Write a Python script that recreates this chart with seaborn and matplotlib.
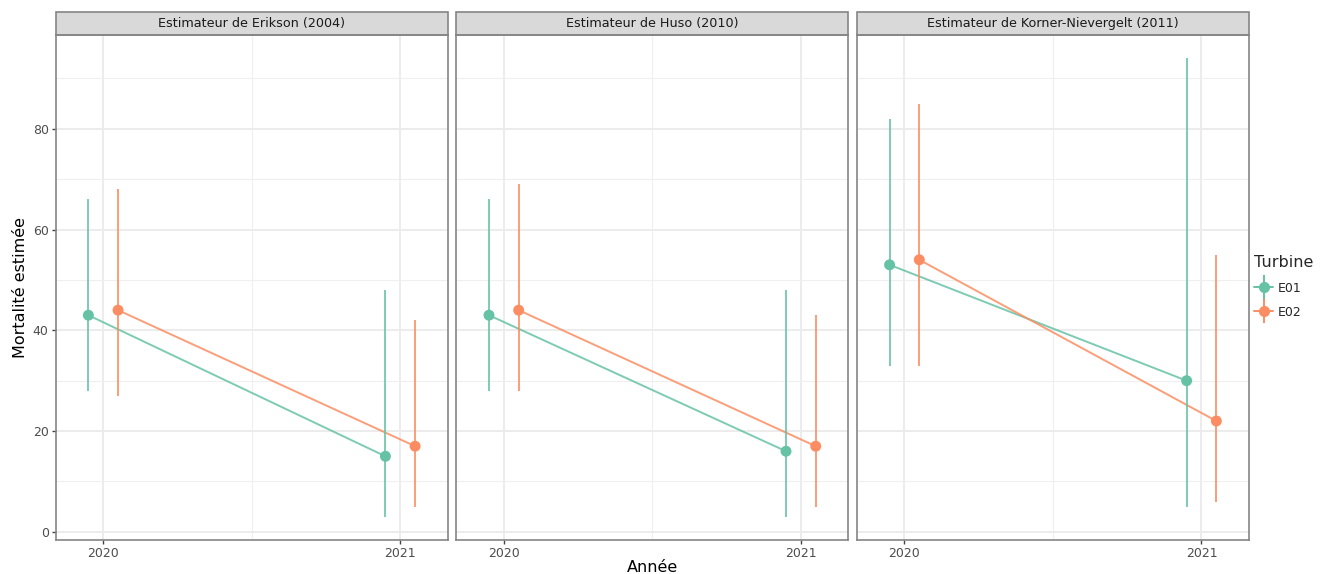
import numpy as np
import pandas as pd
import matplotlib
matplotlib.use("Agg")
import matplotlib.pyplot as plt
from matplotlib.lines import Line2D
from matplotlib.patches import Rectangle
from matplotlib.ticker import MultipleLocator
import seaborn as sns

# Données
estimateurs = ['Estimateur de Erikson (2004)', 'Estimateur de Huso (2010)',
               'Estimateur de Korner-Nievergelt (2011)']
turbines = ['E01', 'E02']
annees = [2020, 2021]

# valeurs par estimateur : [E01 2020, E01 2021, E02 2020, E02 2021]
mortalite = {
    estimateurs[0]: [43, 15, 44, 17],
    estimateurs[1]: [43, 16, 44, 17],
    estimateurs[2]: [53, 30, 54, 22],
}
borne_inf = {
    estimateurs[0]: [28, 3, 27, 5],
    estimateurs[1]: [28, 3, 28, 5],
    estimateurs[2]: [33, 5, 33, 6],
}
borne_sup = {
    estimateurs[0]: [66, 48, 68, 42],
    estimateurs[1]: [66, 48, 69, 43],
    estimateurs[2]: [82, 94, 85, 55],
}

rows = []
for est in estimateurs:
    i = 0
    for t in turbines:
        for a in annees:
            rows.append({'Estimateur': est, 'Turbine': t, 'Annee': a,
                         'Mortalite': mortalite[est][i],
                         'Inf': borne_inf[est][i], 'Sup': borne_sup[est][i]})
            i += 1
df = pd.DataFrame(rows)

# décalage (position_dodge)
decalage = {'E01': -0.05, 'E02': 0.05}
df['x'] = df['Annee'] + df['Turbine'].map(decalage)

couleurs = {'E01': '#66C2A5', 'E02': '#FC8D62'}
gris_bord = '#858585'

sns.set_theme(style="white")
plt.rcParams['font.family'] = ['DejaVu Sans']

fig, axes = plt.subplots(1, 3, figsize=(13.35, 5.74), dpi=100, sharey=True)
fig.subplots_adjust(left=0.0417, right=0.9356, bottom=0.0598, top=0.9385, wspace=0.0217)

for ax, est in zip(axes, estimateurs):
    sub = df[df['Estimateur'] == est]
    ax.set_axisbelow(True)
    sns.lineplot(data=sub, x='x', y='Mortalite', hue='Turbine', palette=couleurs,
                 ax=ax, legend=False, linewidth=1.4, alpha=0.85, zorder=2)
    for t in turbines:
        s = sub[sub['Turbine'] == t]
        ax.vlines(s['x'], s['Inf'], s['Sup'], color=couleurs[t], linewidth=1.4,
                  alpha=0.85, zorder=2)
    sns.scatterplot(data=sub, x='x', y='Mortalite', hue='Turbine', palette=couleurs,
                    ax=ax, legend=False, s=62, edgecolor='none', zorder=3)

    ax.set_xlim(2019.84, 2021.16)
    ax.set_ylim(-1.55, 98.55)
    ax.set_xticks(annees)
    ax.set_xticklabels([str(a) for a in annees])
    ax.xaxis.set_minor_locator(MultipleLocator(0.5))
    ax.set_yticks([0, 20, 40, 60, 80])
    ax.yaxis.set_minor_locator(MultipleLocator(10))
    ax.grid(which='major', color='#EBEBEB', linewidth=1.3)
    ax.grid(which='minor', color='#EFEFEF', linewidth=0.8)
    ax.set_xlabel('')
    ax.set_ylabel('')
    ax.tick_params(axis='both', which='major', length=3, width=1.0, color='#444444',
                   labelsize=9, labelcolor='#4D4D4D', pad=2)
    ax.tick_params(axis='both', which='minor', length=0)
    for sp in ax.spines.values():
        sp.set_color(gris_bord)
        sp.set_linewidth(1.2)
    ax.tick_params(axis='x', bottom=True)
    ax.tick_params(axis='y', left=True)

    # bandeau du facet
    h = 23.5 / 504.4
    ax.add_patch(Rectangle((0, 1), 1, h, transform=ax.transAxes, clip_on=False,
                           facecolor='#D9D9D9', edgecolor=gris_bord, linewidth=1.2))
    ax.text(0.5, 1 + h / 2, est, transform=ax.transAxes, ha='center', va='center',
            fontsize=9.2, color='#1A1A1A')

for ax in axes[1:]:
    ax.tick_params(axis='y', left=False, labelleft=False)

fig.text(0.0155, 0.499, 'Mortalité estimée', rotation=90, ha='center', va='center',
         fontsize=11.5, color='black')
fig.text(0.4887, 0.012, 'Année', ha='center', va='center', fontsize=11.5, color='black')

handles = []
for t in turbines:
    h1 = Line2D([], [], color=couleurs[t], marker='o', markersize=8, linewidth=1.4,
                markeredgewidth=0)
    h2 = Line2D([], [], color=couleurs[t], marker='|', markersize=17,
                markeredgewidth=1.4, linestyle='none')
    handles.append((h1, h2))
leg = fig.legend(handles, turbines, title='Turbine', loc='center left',
                 bbox_to_anchor=(0.931, 0.5), frameon=False, fontsize=9,
                 title_fontsize=11.5, handlelength=1.5, handletextpad=0.4,
                 labelspacing=0.9, alignment='left')

fig.savefig('out.png', dpi=100)
